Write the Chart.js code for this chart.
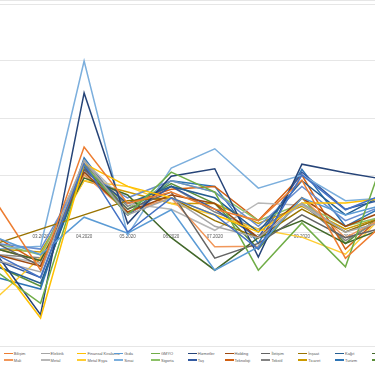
<!DOCTYPE html>
<html>
<head>
<meta charset="utf-8">
<script src="https://cdn.jsdelivr.net/npm/chart.js@4"></script>
<style>
  html, body { margin: 0; padding: 0; background: #fff; overflow: hidden; }
  body { width: 375px; height: 366px; position: relative; font-family: 'Liberation Sans', Arial, sans-serif; }
  #topLine { position: absolute; left: 0; top: 0; width: 375px; height: 1px; background: #e6e6e6; }
  #chartBox { position: absolute; left: -5px; top: 0; width: 396px; height: 347px; }
  #legend { position: absolute; left: -33px; top: 350px; display: grid; grid-template-columns: repeat(12, 36.8px); row-gap: 0; }
  .item { display: flex; align-items: center; height: 6.7px; white-space: nowrap; }
  .swatch { width: 9px; height: 1.5px; margin-right: 1px; flex: none; }
  .lbl { font-size: 4px; color: #595959; }
</style>
</head>
<body>
<div id="topLine"></div>
<div id="chartBox"><canvas id="myChart"></canvas></div>
<div id="legend"></div>
<script>
'use strict';
//////////////// data

let months = ['02.2020', '03.2020', '04.2020', '05.2020', '06.2020', '07.2020', '08.2020', '09.2020', '10.2020', '11.2020'];

let sectorNames = ['Banka', 'Bilişim', 'Elektrik', 'Finansal Kiralama', 'Gıda', 'GMYO', 'Hizmetler', 'Holding', 'İletişim', 'İnşaat', 'Kağıt', 'Kimya',
  'Madencilik', 'Mali', 'Metal', 'Metal Eşya', 'Sınai', 'Sigorta', 'Taş', 'Teknoloji', 'Tekstil', 'Ticaret', 'Turizm', 'Ulaştırma'];

let sectorColors = ['#4472C4', '#ED7D31', '#A5A5A5', '#FFC000', '#5B9BD5', '#70AD47', '#264478', '#9E480E', '#636363', '#997300', '#255E91', '#43682B',
  '#698ED0', '#F1975A', '#B7B7B7', '#FFCD33', '#7CAFDD', '#8CC168', '#335AA1', '#D26012', '#848484', '#CC9A00', '#2E75B6', '#5B8F3A'];

// monthly change, % (one row per sector)
let banka = [-4, -8, 12, 0, 6, 3, -3, 10, 3.9, 7];
let bilisim = [5, -6.7, 14.9, 5, 7, 4, 2, 9.1, -4.6, 2.3];
let elektrik = [-5, -7, 12.6, 3, 6, 1, -1, 5, 0, 2];
let finKir = [-5, -15.1, 12, 8, 6, 3, 0, 5.1, 5.1, 6];
let gida = [-1, -4, 2.6, -0.2, 3.9, -6.7, -2.6, 6, 3, 5];
let gmyo = [-7, -12.5, 11.8, 3, 10.5, 7, -6.7, 1.6, -6.1, 15.6];
let hizmetler = [-4, -14.5, 24.4, 1.5, 9.8, 11.1, -4.4, 11.9, 10.4, 9.1];
let holding = [-4, -6, 10.5, 3.5, 6.5, 5, -1, 6, 1, 4];
let iletisim = [-2, -6, 11, 4, 7, -4.6, -2, 3, -1, 1];
let insaat = [-2, 0.5, 3, 5.5, 6, 2, -1, 4, 0, 3];
let kagit = [-6, -9, 11, 5, 8, 6, 0, 9, 3, 7];
let kimya = [-3, -5, 9.5, 6.5, -1, -6.7, -1, 2, -2, 1];
let madencilik = [-2, -3, 10.5, 6, 9, 7, 1, 8, 2, 5];
let mali = [-3, -5, 10, 3.5, 6, -2.6, -2.5, 6, -1, 3];
let metal = [-4, -5.5, 12.5, 5, 4, 0.3, 5.1, 4.7, 0, 3];
let metalEsya = [-11.5, -4.5, 9, 8, 5, 3, 0.5, -0.9, -3.9, 4];
let sinai = [-3, -2.5, 30, -0.5, 11.2, 14.6, 7.7, 10, 5.5, 6];
let sigorta = [-2, -4, 10, 4, 9, 7, 2, 5, 1, 3];
let tas = [-5, -8, 11.5, 3, 8, 4, -1, 10.5, 4, 6];
let teknoloji = [-1, -5.5, 11, 5, 7.5, 8, 2, 10, -3, 4];
let tekstil = [-4, -4.5, 12, 4.5, 8, 3.5, 0.5, 5, -1.5, 3];
let ticaret = [-3, -3.5, 9, 7, 5, 5, 1.5, 4.5, 0.5, 3];
let turizm = [-8, -10, 13, 3, 9, 8, -2, 11, 1, 5];
let ulastirma = [-6, -9.5, 12, 4, 8.5, 5, -3, 6, -2, 4];

let allValues = [banka, bilisim, elektrik, finKir, gida, gmyo, hizmetler, holding, iletisim, insaat, kagit, kimya,
  madencilik, mali, metal, metalEsya, sinai, sigorta, tas, teknoloji, tekstil, ticaret, turizm, ulastirma];

let yMin = -20;
let yMax = 40;
let yStep = 10;

///////////////////// chart

let datasets = [];
for (let i = 0; i < sectorNames.length; i++) {
  datasets.push({
    label: sectorNames[i],
    data: allValues[i],
    borderColor: sectorColors[i],
    backgroundColor: sectorColors[i],
    borderWidth: 1.5,
    pointRadius: 0,
    tension: 0,
    fill: false
  });
}

let ctx = document.getElementById('myChart').getContext('2d');
let myChart = new Chart(ctx, {
  type: 'line',
  data: {
    labels: months,
    datasets: datasets
  },
  options: {
    responsive: true,
    maintainAspectRatio: false,
    animation: false,
    layout: { padding: { top: 4, bottom: 1, left: 0, right: 0 } },
    plugins: {
      legend: { display: false },
      tooltip: { enabled: false }
    },
    scales: {
      x: {
        position: { y: 0 },
        offset: false,
        grid: { display: false, drawTicks: false },
        border: { display: false },
        ticks: {
          autoSkip: false,
          maxRotation: 0,
          padding: 2,
          color: '#595959',
          font: { size: 4.5, family: 'Liberation Sans' },
          // first and last month sit outside the visible area
          callback: function (value, index) {
            if (index === 0 || index === months.length - 1) {
              return '';
            }
            return months[index];
          }
        }
      },
      y: {
        min: yMin,
        max: yMax,
        ticks: { display: false, stepSize: yStep },
        grid: { color: '#e6e6e6', lineWidth: 1, drawTicks: false },
        border: { display: false }
      }
    }
  }
});

/////////// legend (html, built from the chart datasets)

let legendBox = document.getElementById('legend');
myChart.data.datasets.forEach(function (ds) {
  let item = document.createElement('div');
  item.className = 'item';
  let sw = document.createElement('span');
  sw.className = 'swatch';
  sw.style.background = ds.borderColor;
  let txt = document.createElement('span');
  txt.className = 'lbl';
  txt.textContent = ds.label;
  item.appendChild(sw);
  item.appendChild(txt);
  legendBox.appendChild(item);
});
</script>
</body>
</html>
